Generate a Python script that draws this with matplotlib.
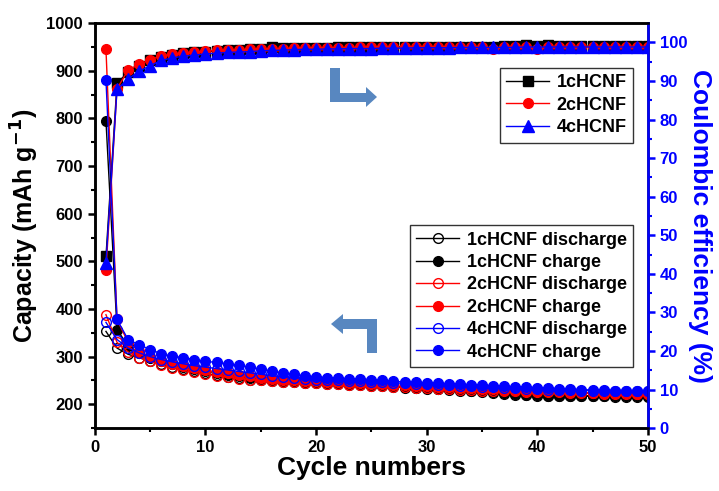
import numpy as np
import matplotlib
matplotlib.use('Agg')
import matplotlib.pyplot as plt
from matplotlib.patches import Polygon

plt.rcParams['font.family'] = ['Liberation Sans', 'DejaVu Sans']
plt.rcParams['font.weight'] = 'bold'
plt.rcParams['mathtext.default'] = 'bf'

cycles = list(range(1, 51))

# Coulombic efficiency (%), right axis
ce_1c = [44.5, 89.4, 92.3, 94.0, 95.5, 96.3, 96.8, 97.2, 97.4, 97.6,
         97.8, 98.0, 98.1, 98.2, 98.3, 98.9, 98.6, 98.5, 98.5, 98.6,
         98.6, 98.7, 98.7, 98.7, 98.7, 98.8, 98.8, 98.8, 98.8, 98.8,
         98.9, 98.9, 98.9, 98.9, 98.9, 98.9, 99.0, 99.0, 99.3, 99.0,
         99.3, 99.0, 99.0, 99.0, 99.0, 99.0, 99.0, 99.0, 99.0, 99.0]
ce_2c = [41.0, 88.0, 92.8, 94.3, 95.5, 96.5, 97.0, 97.3, 97.5, 97.7,
         97.9, 98.0, 98.1, 98.2, 98.3, 98.4, 98.4, 98.5, 98.5, 98.5,
         98.6, 98.6, 98.6, 98.7, 98.7, 98.7, 98.7, 98.7, 98.8, 98.8,
         98.8, 98.8, 98.8, 98.8, 98.8, 98.3, 98.8, 98.9, 98.9, 98.3,
         98.9, 98.9, 98.9, 98.9, 98.9, 98.9, 98.9, 98.9, 98.9, 98.9]
ce_4c = [42.8, 87.8, 90.5, 92.5, 94.0, 95.3, 96.0, 96.4, 96.7, 97.0,
         97.2, 97.4, 97.5, 97.6, 97.8, 97.9, 98.0, 98.1, 98.2, 98.2,
         98.3, 98.3, 98.4, 98.4, 98.4, 98.5, 98.5, 98.5, 98.6, 98.6,
         98.6, 98.6, 98.7, 98.7, 98.7, 98.7, 98.7, 98.7, 98.8, 98.8,
         98.8, 98.8, 98.8, 98.8, 98.8, 98.8, 98.8, 98.8, 98.8, 98.8]

# Capacity (mAh/g), left axis
dis_1c = [353, 318, 305, 298, 290, 284, 279, 274, 270, 265,
          261, 258, 255, 252, 250, 248, 247, 246, 245, 244,
          243, 242, 241, 240, 239, 238, 236, 235, 234, 233,
          232, 231, 229, 228, 226, 224, 222, 220, 219, 218,
          217, 217, 217, 217, 217, 217, 216, 216, 216, 216]
chg_1c = [795, 357, 322, 308, 298, 290, 284, 279, 275, 270,
          266, 262, 259, 256, 253, 251, 249, 248, 247, 246,
          245, 244, 243, 242, 241, 240, 238, 236, 235, 234,
          233, 232, 230, 229, 227, 225, 223, 221, 220, 219,
          218, 218, 218, 218, 218, 218, 218, 217, 217, 217]
dis_2c = [388, 330, 310, 298, 290, 282, 276, 271, 267, 263,
          260, 257, 254, 252, 250, 248, 247, 246, 245, 244,
          243, 242, 241, 240, 239, 238, 237, 236, 235, 234,
          233, 232, 231, 230, 229, 228, 228, 227, 226, 226,
          225, 225, 224, 223, 223, 222, 222, 221, 221, 221]
chg_2c = [945, 378, 330, 312, 300, 291, 285, 280, 276, 272,
          268, 265, 262, 259, 256, 254, 252, 250, 249, 248,
          247, 246, 245, 244, 243, 242, 241, 240, 239, 238,
          237, 236, 235, 234, 233, 232, 231, 230, 229, 228,
          228, 227, 226, 225, 224, 224, 223, 223, 222, 222]
dis_4c = [372, 336, 318, 308, 300, 294, 289, 285, 281, 278,
          275, 272, 269, 266, 263, 260, 258, 256, 254, 252,
          251, 250, 249, 248, 247, 246, 245, 244, 243, 242,
          241, 240, 239, 238, 237, 236, 235, 234, 233, 232,
          231, 230, 230, 229, 229, 228, 228, 227, 227, 227]
chg_4c = [880, 378, 336, 325, 315, 306, 301, 298, 294, 290,
          288, 285, 282, 278, 274, 270, 266, 263, 260, 258,
          256, 255, 254, 253, 252, 250, 248, 247, 246, 245,
          244, 243, 242, 241, 240, 239, 238, 237, 236, 235,
          234, 233, 232, 231, 230, 230, 229, 229, 228, 228]

BLUE = '#0000ff'

fig = plt.figure(figsize=(7.19, 4.91), dpi=100)
ax = fig.add_axes([0.132, 0.128, 0.769, 0.825])
ax2 = ax.twinx()

# ── capacity curves ─────────────────────────────────────
cap_series = [
    (dis_1c, 'black', 'none', '1cHCNF discharge'),
    (chg_1c, 'black', 'black', '1cHCNF charge'),
    (dis_2c, 'red', 'none', '2cHCNF discharge'),
    (chg_2c, 'red', 'red', '2cHCNF charge'),
    (dis_4c, BLUE, 'none', '4cHCNF discharge'),
    (chg_4c, BLUE, BLUE, '4cHCNF charge'),
]
for vals, c, fc, lab in cap_series:
    ax.plot(cycles, vals, '-', color=c, lw=1.0, marker='o', ms=7,
            mfc=fc, mec=c, mew=1.0, label=lab)

# ── coulombic efficiency ────────────────────────────────
ax2.plot(cycles, ce_1c, '-', color='black', lw=1.0, marker='s', ms=7, label='1cHCNF')
ax2.plot(cycles, ce_2c, '-', color='red', lw=1.0, marker='o', ms=7, label='2cHCNF')
ax2.plot(cycles, ce_4c, '-', color=BLUE, lw=1.0, marker='^', ms=8, label='4cHCNF')

ax.set_xlim(0, 50)
ax.set_ylim(150, 1000)
ax2.set_ylim(0, 105)

ax.set_xticks(range(0, 51, 10))
ax.set_xticks(range(5, 50, 10), minor=True)
ax.set_yticks(range(200, 1001, 100))
ax.set_yticks(range(150, 1000, 100), minor=True)
ax2.set_yticks(range(0, 101, 10))
ax2.set_yticks(range(5, 105, 10), minor=True)

for sp in ax.spines.values():
    sp.set_linewidth(1.8)
for name, sp in ax2.spines.items():
    sp.set_linewidth(1.8)
ax2.spines['right'].set_color(BLUE)

ax.tick_params(axis='both', which='major', direction='out', length=5, width=1.8,
               labelsize=12)
ax.tick_params(axis='both', which='minor', direction='out', length=3, width=1.5)
ax.tick_params(axis='x', top=False)
ax2.tick_params(axis='y', which='major', direction='out', length=5, width=1.8,
                colors=BLUE, labelsize=12)
ax2.tick_params(axis='y', which='minor', direction='out', length=3, width=1.5,
                colors=BLUE)

ax.set_xlabel('Cycle numbers', fontsize=19, fontweight='bold', labelpad=1)
ax.set_ylabel('Capacity (mAh g$^{-1}$)', fontsize=18, fontweight='bold',
              labelpad=4)
ax2.set_ylabel('Coulombic efficiency (%)', fontsize=19, fontweight='bold',
               color=BLUE, rotation=270, labelpad=18)

leg_kw = dict(fontsize=13, frameon=True, fancybox=False, edgecolor='black',
              handlelength=2.4, handletextpad=0.4, labelspacing=0.3,
              borderpad=0.35, borderaxespad=0)
leg1 = ax.legend(loc='lower right', bbox_to_anchor=(0.973, 0.151), **leg_kw)
leg1.get_frame().set_linewidth(1.0)
leg2 = ax2.legend(loc='upper right', bbox_to_anchor=(0.973, 0.889), **leg_kw)
leg2.get_frame().set_linewidth(1.0)

# ── L-shaped pointer arrows (figure pixel coords, y from top) ──
H = 491.0
def px(pts):
    return [(x / 719.0, (H - y) / H) for x, y in pts]

arrow_right = [(330, 68), (340, 68), (340, 93), (366, 93), (366, 87), (377, 97),
               (366, 107), (366, 102), (330, 102)]
arrow_left = [(377, 319), (377, 353), (367, 353), (367, 329), (343, 329), (343, 334),
              (331, 324), (343, 314), (343, 319)]
for shape in (arrow_right, arrow_left):
    fig.patches.append(Polygon(px(shape), closed=True, transform=fig.transFigure,
                               facecolor='#4f81bd', edgecolor='none', alpha=0.95))

fig.savefig('out.png', dpi=100)
